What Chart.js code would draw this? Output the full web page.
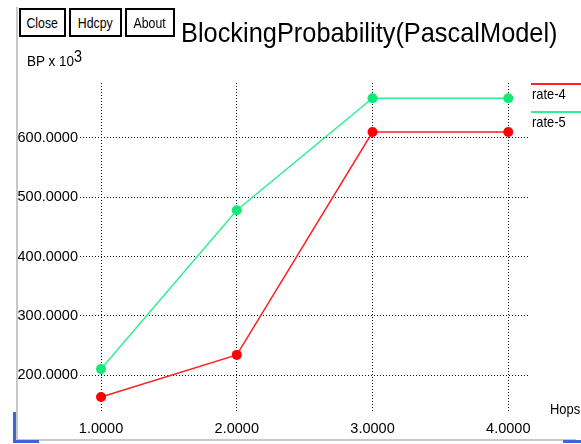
<!DOCTYPE html>
<html>
<head>
<meta charset="utf-8">
<script src="https://cdn.jsdelivr.net/npm/chart.js@4.4.1/dist/chart.umd.min.js"></script>
<style>
  body { margin: 0; background: #fff; font-family: "Liberation Sans", Arial, sans-serif; }
  #wrap { position: relative; width: 581px; height: 444px; overflow: hidden; }
  #chart { position: absolute; left: 0; top: 0; }
  .btn { position: absolute; top: 8px; height: 29px; border: 2px solid #000; box-sizing: border-box;
         font-size: 15px; line-height: 25px; text-align: center; background: #fff; overflow: hidden; }
  .btn span { display: inline-block; transform: scaleX(0.82); }
  #title { position: absolute; left: 181px; top: 17px; font-size: 28px; line-height: 32px; color: #000;
           white-space: nowrap; transform-origin: 0 0; }
  #bp { position: absolute; left: 27px; top: 53px; font-size: 15px; line-height: 16px; white-space: nowrap;
        transform-origin: 0 0; transform: scaleX(0.9); }
  #bp sup { font-size: 16px; position: relative; top: -4px; vertical-align: baseline; }
  .frame { position: absolute; background: #c8c8c8; }
  .blue { position: absolute; background: #3a66d6; }
</style>
</head>
<body>
<div id="wrap">
  <canvas id="chart" width="581" height="444"></canvas>
  <div class="frame" style="left:16px;top:7px;width:2px;height:433px"></div>
  <div class="frame" style="left:16px;top:439px;width:560px;height:2px"></div>
  <div class="blue" style="left:13px;top:412px;width:3px;height:31px"></div>
  <div class="blue" style="left:13px;top:440px;width:26px;height:3px"></div>
  <div class="blue" style="left:563px;top:440px;width:18px;height:3px"></div>
  <div class="btn" style="left:19px;width:47px"><span>Close</span></div>
  <div class="btn" style="left:69px;width:53px"><span>Hdcpy</span></div>
  <div class="btn" style="left:125px;width:50px"><span>About</span></div>
  <div id="title">BlockingProbability(PascalModel)</div>
  <div id="bp">BP x 10<sup>3</sup></div>
</div>
<script>
const hops = [1, 2, 3, 4];
const rate4 = [163, 234, 610, 610];
const rate5 = [210, 478, 667, 667];
const xTicks = [1, 2, 3, 4];
const yTicks = [200, 300, 400, 500, 600];
const seriesNames = ["rate-4", "rate-5"];

const FONT = '"Liberation Sans", Arial, sans-serif';

// squeeze the title to the narrow width of the original
const title = document.getElementById("title");
title.style.transform = "scaleX(" + (377 / title.scrollWidth) + ")";

const toPoints = (vals) => hops.map((h, i) => ({ x: h, y: vals[i] }));

// legend + axis name drawn on the canvas
const extras = {
  id: "extras",
  afterDraw(chart) {
    const ctx = chart.ctx;
    ctx.save();
    ctx.textBaseline = "middle";
    ctx.fillStyle = "#000";
    chart.data.datasets.forEach((ds, i) => {
      const y = 84 + i * 28;
      ctx.strokeStyle = ds.borderColor;
      ctx.lineWidth = 2;
      ctx.beginPath();
      ctx.moveTo(531, y);
      ctx.lineTo(581, y);
      ctx.stroke();
      ctx.save();
      ctx.translate(532, y + 11);
      ctx.scale(0.86, 1);
      ctx.font = "15px " + FONT;
      ctx.fillText(ds.label, 0, 0);
      ctx.restore();
    });
    ctx.translate(550, 410);
    ctx.scale(0.86, 1);
    ctx.font = "15px " + FONT;
    ctx.fillText("Hops", 0, 0);
    ctx.restore();
  }
};

new Chart(document.getElementById("chart"), {
  type: "line",
  data: {
    datasets: [
      {
        label: seriesNames[0],
        data: toPoints(rate4),
        borderColor: "#ff2020",
        backgroundColor: "#ff0000",
        borderWidth: 1.5,
        pointRadius: 5,
        pointBorderWidth: 0,
        tension: 0
      },
      {
        label: seriesNames[1],
        data: toPoints(rate5),
        borderColor: "#30f090",
        backgroundColor: "#10e878",
        borderWidth: 1.5,
        pointRadius: 5,
        pointBorderWidth: 0,
        tension: 0
      }
    ]
  },
  options: {
    responsive: false,
    animation: false,
    layout: { padding: { left: 0, top: 83, right: 51, bottom: 0 } },
    plugins: { legend: { display: false }, title: { display: false }, tooltip: { enabled: false } },
    scales: {
      x: {
        type: "linear",
        min: 0.845,
        max: 4.16,
        afterBuildTicks: (s) => { s.ticks = xTicks.map(v => ({ value: v })); },
        afterFit: (s) => { s.height = 32; },
        border: { display: false, dash: [1, 2] },
        grid: { color: "#111", lineWidth: 1, drawTicks: false },
        ticks: { padding: 8, color: "#000", font: { family: FONT, size: 14.5 }, callback: (v) => v.toFixed(4) }
      },
      y: {
        min: 137.6,
        max: 692.8,
        afterBuildTicks: (s) => { s.ticks = yTicks.map(v => ({ value: v })); },
        afterFit: (s) => { s.width = 80; },
        border: { display: false, dash: [1, 2] },
        grid: { color: "#111", lineWidth: 1, drawTicks: false },
        ticks: { padding: 2, color: "#000", font: { family: FONT, size: 14.5 }, callback: (v) => v.toFixed(4) }
      }
    }
  },
  plugins: [extras]
});
</script>
</body>
</html>
